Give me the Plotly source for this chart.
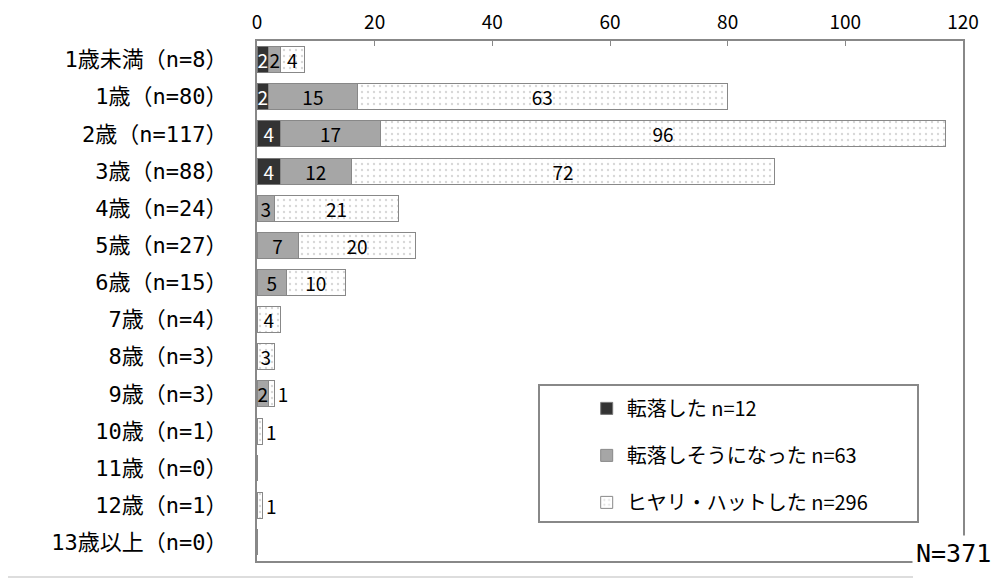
import plotly.graph_objects as go

ages = ["1歳未満（n=8）", "1歳（n=80）", "2歳（n=117）", "3歳（n=88）", "4歳（n=24）",
        "5歳（n=27）", "6歳（n=15）", "7歳（n=4）", "8歳（n=3）", "9歳（n=3）",
        "10歳（n=1）", "11歳（n=0）", "12歳（n=1）", "13歳以上（n=0）"]
fell = [2, 2, 4, 4, 0, 0, 0, 0, 0, 0, 0, 0, 0, 0]
almost = [2, 15, 17, 12, 3, 7, 5, 0, 0, 2, 0, 0, 0, 0]
hiyari = [4, 63, 96, 72, 21, 20, 10, 4, 3, 1, 1, 0, 1, 0]
names = ["転落した n=12", "転落しそうになった n=63", "ヒヤリ・ハットした n=296"]

jp = "Noto Sans CJK JP, sans-serif"
mono = "DejaVu Sans Mono, Noto Sans CJK JP, monospace"

# page has an 8px body margin, so the figure is a bit smaller than the window
W, H = 992, 570
L, T = 249, 33
PW, PH = 706, 520


def lbl(vals):
    return [str(v) if v else "" for v in vals]


def px(x):
    # page pixel -> paper x
    return (x - 257) / PW


def py(y):
    # page pixel -> paper y
    return (561 - y) / PH


fig = go.Figure()
fig.add_trace(go.Bar(
    y=ages, x=fell, orientation="h", name=names[0], legendgroup="a",
    marker=dict(color="#333333", line=dict(color="#777777", width=1)),
    text=lbl(fell), textposition="inside", insidetextanchor="middle",
    textfont=dict(color="white"), textangle=0,
))
fig.add_trace(go.Bar(
    y=ages, x=almost, orientation="h", name=names[1], legendgroup="b",
    marker=dict(color="#a6a6a6", line=dict(color="#888888", width=1)),
    text=lbl(almost), textposition="inside", insidetextanchor="middle",
    textfont=dict(color="black"), textangle=0,
))
fig.add_trace(go.Bar(
    y=ages, x=hiyari, orientation="h", name=names[2], legendgroup="c",
    marker=dict(color="white", line=dict(color="#888888", width=1),
                pattern=dict(shape=".", fgcolor="#b0b0b0", bgcolor="white",
                             size=6, solidity=0.12)),
    text=lbl(hiyari), textposition="auto", insidetextanchor="middle",
    textfont=dict(color="black"), textangle=0,
))

fig.update_layout(
    width=W, height=H,
    barmode="stack", bargap=0.3,
    plot_bgcolor="white", paper_bgcolor="white",
    font=dict(family=jp, size=19, color="black"),
    margin=dict(l=L, r=W - L - PW, t=T, b=H - T - PH),
    uniformtext=dict(minsize=19, mode="show"),
    xaxis=dict(side="top", range=[0, 120], dtick=20, showgrid=False,
               showline=True, mirror=True, linecolor="#888888", linewidth=2,
               ticks="inside", ticklen=5, tickcolor="#888888",
               tickfont=dict(size=19), ticklabelstandoff=2, zeroline=False,
               automargin=False),
    yaxis=dict(autorange="reversed", showgrid=False, showline=True,
               mirror=True, linecolor="#888888", linewidth=2,
               tickfont=dict(family=mono, size=22), ticklabelstandoff=23,
               automargin=False),
    legend=dict(x=0.467, y=0.331, xanchor="left", yanchor="top",
                traceorder="grouped", tracegroupgap=18,
                bgcolor="rgba(0,0,0,0)", font=dict(size=20), itemwidth=30),
    showlegend=True,
)

# legend frame
fig.add_shape(type="rect", xref="paper", yref="paper",
              x0=px(539), x1=px(918), y0=py(522), y1=py(385),
              line=dict(color="#888888", width=2), fillcolor="rgba(0,0,0,0)")

# faint line along the bottom of the picture
fig.add_shape(type="line", xref="paper", yref="paper",
              x0=px(-10), x1=px(913), y0=py(577), y1=py(577),
              line=dict(color="#dddddd", width=2))

fig.add_annotation(text="N=371", xref="paper", yref="paper",
                   x=px(995), y=py(553), xanchor="right", yanchor="middle",
                   showarrow=False, bgcolor="white", borderpad=3,
                   font=dict(family=mono, size=25))

fig.write_html("out.html")
